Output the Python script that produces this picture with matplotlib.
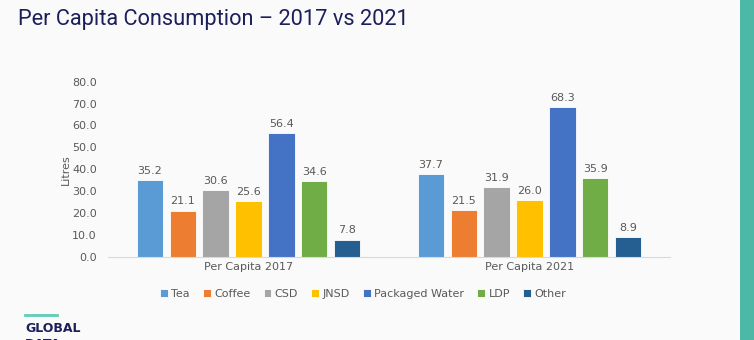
import matplotlib.pyplot as plt
import numpy as np

# per capita consumption, litres
groups = ['Per Capita 2017', 'Per Capita 2021']
categories = ['Tea', 'Coffee', 'CSD', 'JNSD', 'Packaged Water', 'LDP', 'Other']
vals_2017 = [35.2, 21.1, 30.6, 25.6, 56.4, 34.6, 7.8]
vals_2021 = [37.7, 21.5, 31.9, 26.0, 68.3, 35.9, 8.9]
colors = ['#5b9bd5', '#ed7d31', '#a5a5a5', '#ffc000', '#4472c4', '#70ad47', '#255e91']

bg = '#fafafa'
txt = '#595959'
fig = plt.figure(figsize=(7.54, 3.4), dpi=100, facecolor=bg)
ax = fig.add_axes([108 / 754, 83.3 / 340, 562 / 754, 175 / 340], facecolor=bg)

x = np.arange(len(groups))
n = len(categories)
slot = 0.117
for i, cat in enumerate(categories):
    vals = [vals_2017[i], vals_2021[i]]
    pos = x + (i - (n - 1) / 2) * slot
    bars = ax.bar(pos, vals, width=slot * 0.8, color=colors[i], label=cat,
                  edgecolor='white', linewidth=0.6)
    for b, v in zip(bars, vals):
        ax.annotate(f'{v:.1f}', (b.get_x() + b.get_width() / 2, v),
                    xytext=(0, 3), textcoords='offset points',
                    ha='center', va='bottom', fontsize=8, color=txt)

ax.set_xlim(-0.5, 1.5)
ax.set_ylim(0, 80)
ax.set_yticks(np.arange(0, 81, 10))
ax.set_yticklabels([f'{t:.1f}' for t in np.arange(0, 81, 10)])
ax.set_xticks(x)
ax.set_xticklabels(groups)
ax.tick_params(axis='both', length=0, labelsize=8, colors=txt)
ax.tick_params(axis='x', pad=4)
ax.tick_params(axis='y', pad=8)
for s in ['top', 'right', 'left']:
    ax.spines[s].set_visible(False)
ax.spines['bottom'].set_color('#d9d9d9')
ax.set_ylabel('Litres', fontsize=8, color=txt, labelpad=1)

fig.legend(loc='center', bbox_to_anchor=(363 / 754, 1 - 294 / 340), ncol=7,
           frameon=False, fontsize=8, labelcolor=txt, handlelength=0.7,
           handleheight=0.7, handletextpad=0.3, columnspacing=1.2)

fig.text(18 / 754, 1 - 20 / 340, 'Per Capita Consumption \u2013 2017 vs 2021',
         fontsize=15.7, color='#1c1f5a', family=['Roboto', 'Liberation Sans'],
         va='center', ha='left')

# side accent bar and logo
fig.add_artist(plt.Rectangle((740 / 754, 0), 14 / 754, 1, transform=fig.transFigure,
                             color='#4db8a5', lw=0))
fig.add_artist(plt.Line2D([25 / 754, 57 / 754], [1 - 315 / 340] * 2,
                          transform=fig.transFigure, color='#5dcfb5', lw=2))
fig.text(25 / 754, 1 - 329 / 340, 'GLOBAL', fontsize=9, fontweight='bold',
         color='#1c1f5a', va='center', ha='left')
fig.text(25 / 754, 1 - 338 / 340, 'DATA', fontsize=9, fontweight='bold',
         color='#1c1f5a', va='top', ha='left')

fig.savefig('out.png', dpi=100, facecolor=bg)
